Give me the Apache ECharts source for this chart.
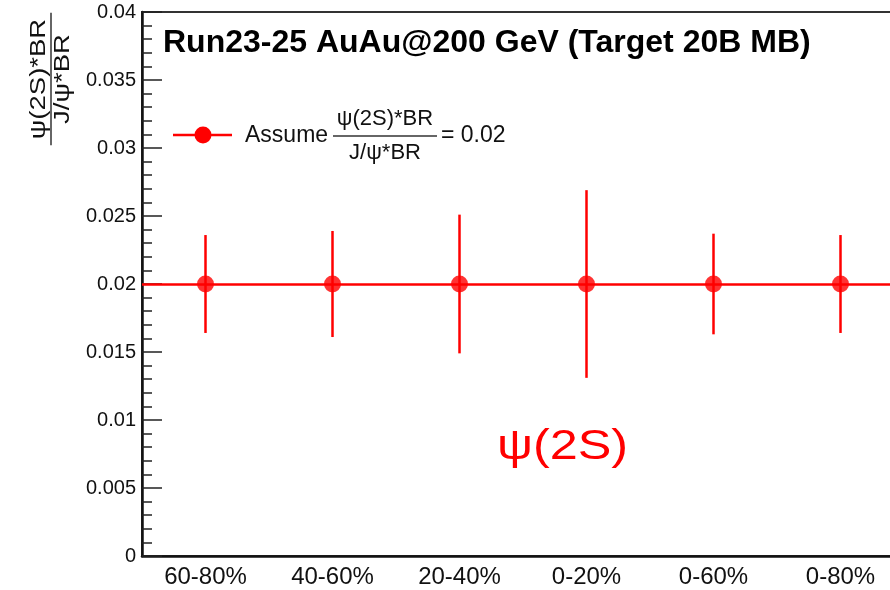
<!DOCTYPE html>
<html>
<head>
<meta charset="utf-8">
<script src="https://cdn.jsdelivr.net/npm/echarts@6/dist/echarts.min.js"></script>
<style>
  html, body { margin: 0; padding: 0; background: #fff; overflow: hidden; }
  /* the canvas is a bit wider than the window so the frame's right side falls outside it */
  #chart { width: 904px; height: 590px; }
</style>
</head>
<body>
<div id="chart"></div>
<script>
// Centrality classes and the projected psi(2S)/J/psi ratio with its uncertainty
const centralities = ['60-80%', '40-60%', '20-40%', '0-20%', '0-60%', '0-80%'];
const ratioValues = [0.02, 0.02, 0.02, 0.02, 0.02, 0.02];
const ratioErrors = [0.0036, 0.0039, 0.0051, 0.0069, 0.0037, 0.0036];
const assumedRatio = 0.02;
const yTicks = { min: 0, max: 0.04, step: 0.005 };

const RED = '#ff0000';
const FONT = '"Liberation Sans", Arial, Helvetica, sans-serif';

const chart = echarts.init(document.getElementById('chart'), null, { renderer: 'canvas' });

const errorData = centralities.map((c, i) => [i, ratioValues[i], ratioErrors[i]]);
const pointData = centralities.map((c, i) => [i, ratioValues[i]]);

chart.setOption({
  animation: false,
  backgroundColor: '#fff',
  grid: {
    left: 142, top: 12, right: 0, bottom: 34,
    show: true, borderColor: '#333', borderWidth: 2, backgroundColor: 'transparent'
  },
  xAxis: {
    type: 'category',
    data: centralities,
    boundaryGap: true,
    axisLine: { lineStyle: { color: '#111', width: 2.5 } },
    axisTick: { inside: true, length: 16, lineStyle: { color: '#222', width: 1.5 } },
    axisLabel: { color: '#111', fontFamily: FONT, fontSize: 24, margin: 9 },
    splitLine: { show: false }
  },
  yAxis: {
    type: 'value',
    min: yTicks.min, max: yTicks.max, interval: yTicks.step,
    axisLine: { show: true, lineStyle: { color: '#111', width: 2.5 } },
    axisTick: { show: true, inside: true, length: 20, lineStyle: { color: '#222', width: 1.5 } },
    minorTick: { show: true, splitNumber: 5, length: 10, lineStyle: { color: '#222', width: 1.5 } },
    axisLabel: {
      color: '#111', fontFamily: FONT, fontSize: 20, margin: 6,
      formatter: v => String(parseFloat(v.toFixed(3)))
    },
    splitLine: { show: false }
  },
  series: [
    {
      // vertical uncertainty bars
      type: 'custom',
      data: errorData,
      z: 3,
      renderItem: (params, api) => {
        const x = api.value(0), y = api.value(1), e = api.value(2);
        const top = api.coord([x, y + e]);
        const bot = api.coord([x, y - e]);
        return {
          type: 'line',
          shape: { x1: top[0], y1: top[1], x2: bot[0], y2: bot[1] },
          style: { stroke: RED, lineWidth: 2.5 }
        };
      }
    },
    {
      type: 'scatter',
      data: pointData,
      symbol: 'circle',
      symbolSize: 17,
      itemStyle: { color: RED },
      z: 4,
      markLine: {
        silent: true,
        symbol: 'none',
        label: { show: false },
        lineStyle: { color: RED, width: 2.5, type: 'solid' },
        data: [{ yAxis: assumedRatio }]
      }
    }
  ],
  graphic: [
    // Title
    {
      type: 'text', x: 163, y: 43,
      style: { text: 'Run23-25 AuAu@200 GeV (Target 20B MB)', font: 'bold 32px ' + FONT, fill: '#000', textVerticalAlign: 'middle' }
    },
    // Legend entry
    {
      type: 'group', x: 0, y: 0,
      children: [
        { type: 'line', shape: { x1: 173, y1: 135, x2: 232, y2: 135 }, style: { stroke: RED, lineWidth: 2.5 } },
        { type: 'circle', shape: { cx: 203, cy: 135, r: 8.5 }, style: { fill: RED } },
        { type: 'text', x: 245, y: 136, style: { text: 'Assume', font: '23px ' + FONT, fill: '#111', textVerticalAlign: 'middle' } },
        { type: 'text', x: 385, y: 119, style: { text: 'ψ(2S)*BR', font: '22px ' + FONT, fill: '#111', textAlign: 'center', textVerticalAlign: 'middle' } },
        { type: 'line', shape: { x1: 333, y1: 136, x2: 437, y2: 136 }, style: { stroke: '#333', lineWidth: 1.5 } },
        { type: 'text', x: 385, y: 153, style: { text: 'J/ψ*BR', font: '22px ' + FONT, fill: '#111', textAlign: 'center', textVerticalAlign: 'middle' } },
        { type: 'text', x: 441, y: 136, style: { text: '= 0.02', font: '23px ' + FONT, fill: '#111', textVerticalAlign: 'middle' } }
      ]
    },
    // Y-axis title as a rotated fraction
    {
      type: 'group', x: 51, y: 79, rotation: Math.PI / 2, scaleX: 1.25,
      children: [
        { type: 'text', x: 0, y: -12, style: { text: 'ψ(2S)*BR', font: '22px ' + FONT, fill: '#111', textAlign: 'center', textVerticalAlign: 'middle' } },
        { type: 'line', shape: { x1: -53, y1: 0, x2: 53, y2: 0 }, style: { stroke: '#333', lineWidth: 1.5 } },
        { type: 'text', x: 0, y: 12, style: { text: 'J/ψ*BR', font: '22px ' + FONT, fill: '#111', textAlign: 'center', textVerticalAlign: 'middle' } }
      ]
    },
    // Particle label
    {
      type: 'group', x: 497, y: 447, scaleX: 1.2,
      children: [
        { type: 'text', x: 0, y: 0, style: { text: 'ψ(2S)', font: '42px ' + FONT, fill: RED, textVerticalAlign: 'middle' } }
      ]
    }
  ]
});
</script>
</body>
</html>
